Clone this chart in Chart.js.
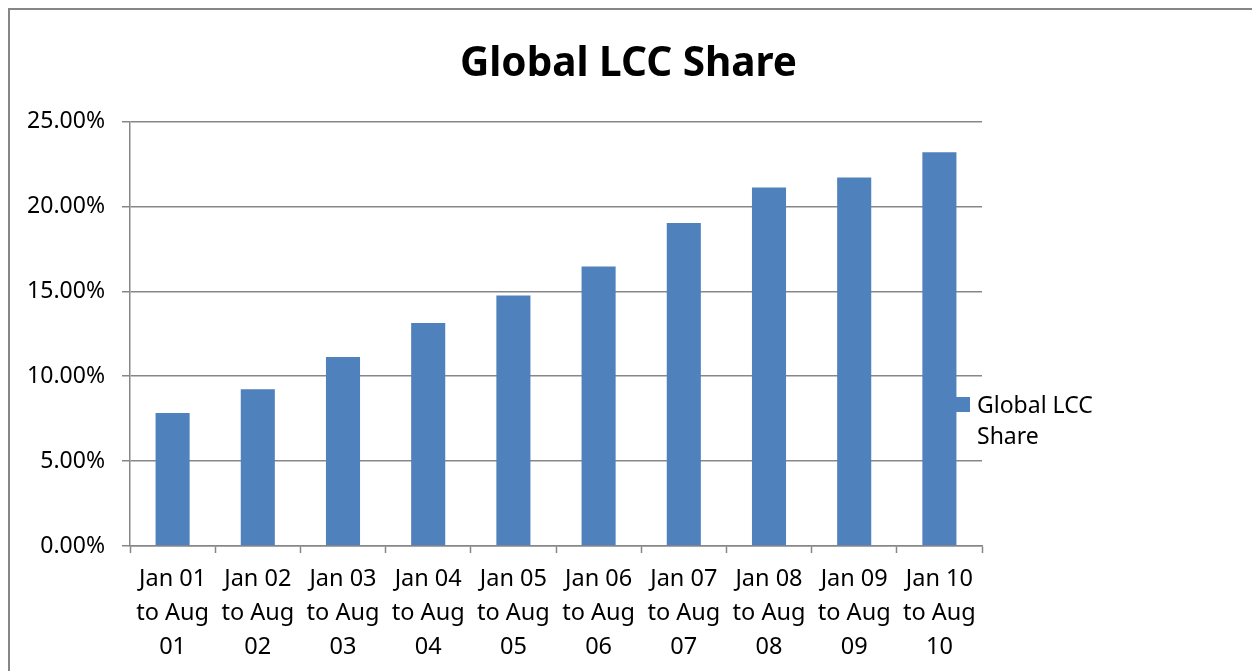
<!DOCTYPE html>
<html>
<head>
<meta charset="utf-8">
<script src="https://cdn.jsdelivr.net/npm/chart.js@4"></script>
<style>
  html, body { margin: 0; padding: 0; background: #fff; overflow: hidden; }
  #frame {
    position: absolute; left: 8px; top: 8px; width: 1400px; height: 800px;
    border-left: 2px solid #868686; border-top: 2px solid #868686;
  }
  #wrap { position: absolute; left: 0; top: 0; width: 1252px; height: 671px; }
</style>
</head>
<body>
<div id="frame"></div>
<div id="wrap"><canvas id="chart" width="1252" height="671"></canvas></div>
<script>
const periods = [
  ['Jan 01', 'to Aug', '01'],
  ['Jan 02', 'to Aug', '02'],
  ['Jan 03', 'to Aug', '03'],
  ['Jan 04', 'to Aug', '04'],
  ['Jan 05', 'to Aug', '05'],
  ['Jan 06', 'to Aug', '06'],
  ['Jan 07', 'to Aug', '07'],
  ['Jan 08', 'to Aug', '08'],
  ['Jan 09', 'to Aug', '09'],
  ['Jan 10', 'to Aug', '10'],
];
// share in percent
const lccShare = [7.84, 9.24, 11.14, 13.14, 14.75, 16.47, 19.02, 21.12, 21.7, 23.19];
const seriesName = 'Global LCC Share';
const chartTitle = 'Global LCC Share';

const FONT = "'Noto Sans', 'Open Sans', sans-serif";
const GRID = '#878787';
const BAR = '#4f81bd';

// legend sits to the right of the plot, text wraps onto two lines like the original
const sideLegend = {
  id: 'sideLegend',
  afterDraw(chart) {
    const { ctx, chartArea } = chart;
    const x = chartArea.right - 27;
    const y = 397;
    ctx.save();
    ctx.fillStyle = BAR;
    ctx.fillRect(x, y, 15, 15);
    ctx.fillStyle = '#000';
    ctx.font = '23px ' + FONT;
    ctx.textBaseline = 'middle';
    const words = seriesName.split(' ');
    ctx.fillText(words.slice(0, 2).join(' '), x + 22, y + 9);
    ctx.fillText(words.slice(2).join(' '), x + 22, y + 40);
    ctx.restore();
  }
};

new Chart(document.getElementById('chart').getContext('2d'), {
  type: 'bar',
  data: {
    labels: periods,
    datasets: [{
      label: seriesName,
      data: lccShare,
      backgroundColor: BAR,
      borderWidth: 0,
      barPercentage: 0.4,
      categoryPercentage: 1.0,
    }],
  },
  options: {
    responsive: false,
    animation: false,
    layout: { padding: { left: 5, right: 0, top: 0, bottom: 0 } },
    plugins: {
      legend: { display: false },
      tooltip: { enabled: false },
      title: {
        display: true,
        text: chartTitle,
        color: '#000',
        font: { family: FONT, size: 40.5, weight: 'bold', lineHeight: 1.2 },
        padding: { top: 40, bottom: 33 },
      },
    },
    scales: {
      x: {
        grid: {
          display: true,
          drawOnChartArea: false,
          drawTicks: true,
          tickLength: 7,
          tickColor: GRID,
          tickWidth: 1.5,
          offset: true,
        },
        border: { display: true, color: GRID, width: 1.5 },
        ticks: {
          color: '#000',
          font: { family: FONT, size: 23.5, lineHeight: 1.43 },
          padding: 10,
          maxRotation: 0,
          autoSkip: false,
        },
        afterFit(scale) { scale.height = 125; },
      },
      y: {
        min: 0,
        max: 25,
        grid: {
          color: GRID,
          lineWidth: 1.5,
          drawTicks: true,
          tickLength: 8,
        },
        border: { display: true, color: GRID, width: 1.5 },
        ticks: {
          stepSize: 5,
          color: '#000',
          font: { family: FONT, size: 23 },
          padding: 17,
          callback: (value) => value.toFixed(2) + '%',
        },
        afterFit(scale) { scale.width = 125; },
      },
      // empty right-hand axis reserves the space the legend sits in
      side: {
        position: 'right',
        display: true,
        grid: { display: false },
        border: { display: false },
        ticks: { display: false },
        afterFit(scale) { scale.width = 270; },
      },
    },
  },
  plugins: [sideLegend],
});
</script>
</body>
</html>
